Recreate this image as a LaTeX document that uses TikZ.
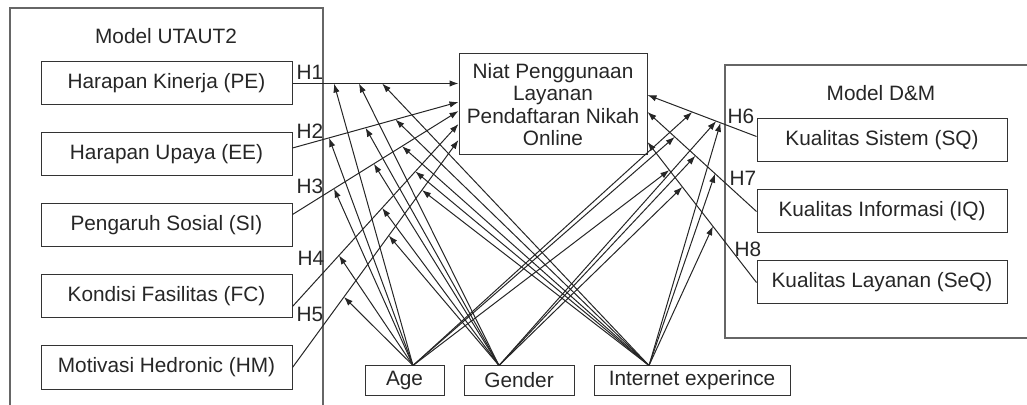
\documentclass[tikz,border=0pt]{standalone}
\usepackage{fontspec}
\setmainfont{Liberation Sans}
\usetikzlibrary{positioning, arrows.meta}

\begin{document}
\begin{tikzpicture}[
    x=0.5pt, y=-0.5pt,
    color=black!85,
    font=\fontsize{10.4}{11.2}\selectfont,
    box/.style={draw=black!80, minimum width=125.5pt, minimum height=21.5pt, inner sep=0pt, line width=0.5pt},
    modbox/.style={draw=black!80, minimum height=14.5pt, inner sep=0pt, line width=0.5pt},
    frame/.style={draw=black!60, line width=0.8pt},
    hlab/.style={inner sep=0pt},
    arrow/.style={line width=0.5pt, -{Latex[length=4.5pt, width=3.2pt]}},
    node distance=13.5pt
]
\useasboundingbox (0,0) rectangle (1027,405);

% Frames
\draw[frame] (10,405) |- (323,8) -- (323,405);
\draw[frame] (1027,65) -| (725,338) -- (1027,338);
\node (utaut) at (166,36) {Model UTAUT2};
\node (dm) at (881,93) {Model D\&M};

% UTAUT2 constructs
\node[box] (pe) at (166.5,83.5) {Harapan Kinerja (PE)};
\node[box, below=of pe] (ee) {Harapan Upaya (EE)};
\node[box, below=of ee] (si) {Pengaruh Sosial (SI)};
\node[box, below=of si] (fc) {Kondisi Fasilitas (FC)};
\node[box, below=of fc] (hm) {Motivasi Hedronic (HM)};

% D&M constructs
\node[box, minimum width=125pt] (sq) at (882,140.5) {Kualitas Sistem (SQ)};
\node[box, minimum width=125pt, below=of sq] (iq) {Kualitas Informasi (IQ)};
\node[box, minimum width=125pt, below=of iq] (seq) {Kualitas Layanan (SeQ)};

% Intention
\node[box, minimum width=94pt, minimum height=50.5pt, align=center] (niat) at (553,104.5)
    {Niat Penggunaan\\Layanan\\Pendaftaran Nikah\\Online};

% Moderators
\node[modbox, minimum width=39.5pt] (age) at (404.5,380.5) {Age};
\node[modbox, minimum width=55pt, right=9.5pt of age] (gender) {Gender};
\node[modbox, minimum width=98pt, right=9.5pt of gender] (inet) {Internet experince};
\coordinate (agetop) at ([xshift=4.25pt]age.north);
\coordinate (gentop) at ([xshift=-10pt]gender.north);
\coordinate (inettop) at ([xshift=-21.5pt]inet.north);

% Hypotheses
\draw[arrow] (pe.east) -- coordinate[pos=.25] (a1) coordinate[pos=.40] (g1) coordinate[pos=.54] (i1) (pe.east -| niat.west);
\draw[arrow] ([yshift=3.25pt]ee.east) -- coordinate[pos=.22] (a2) coordinate[pos=.44] (g2) coordinate[pos=.62] (i2) ([yshift=1.25pt]niat.west);
\draw[arrow] ([yshift=5.5pt]si.east) -- coordinate[pos=.25] (a3) coordinate[pos=.49] (g3) coordinate[pos=.66] (i3) ([yshift=-3.25pt]niat.west);
\draw[arrow] ([yshift=-5pt]fc.east) -- coordinate[pos=.28] (a4) coordinate[pos=.54] (g4) coordinate[pos=.74] (i4) ([yshift=-9.75pt]niat.west);
\draw[arrow] (hm.east) -- coordinate[pos=.31] (a5) coordinate[pos=.58] (g5) coordinate[pos=.78] (i5) ([yshift=-17.75pt]niat.west);
\draw[arrow] ([yshift=2pt]sq.west) -- coordinate[pos=.59] (a6) coordinate[pos=.37] (g6) coordinate[pos=.33] (i6) ([yshift=4.75pt]niat.east);
\draw[arrow] (iq.west) -- coordinate[pos=.75] (a7) coordinate[pos=.56] (g7) coordinate[pos=.38] (i7) ([yshift=-3.75pt]niat.east);
\draw[arrow] (seq.west) -- coordinate[pos=.80] (a8) coordinate[pos=.68] (g8) coordinate[pos=.40] (i8) ([yshift=-18.75pt]niat.east);

\node[hlab] (h1) at (310,72) {H1};
\node[hlab] (h2) at (310,131) {H2};
\node[hlab] (h3) at (310,186) {H3};
\node[hlab] (h4) at (311,258) {H4};
\node[hlab] (h5) at (310,314) {H5};
\node[hlab] (h6) at (741,116) {H6};
\node[hlab] (h7) at (743,178) {H7};
\node[hlab] (h8) at (748,249) {H8};

% Moderating effects
\foreach \h in {1,...,8} {
    \draw[arrow] (agetop) -- (a\h);
    \draw[arrow] (gentop) -- (g\h);
    \draw[arrow] (inettop) -- (i\h);
}

\end{tikzpicture}
\end{document}
